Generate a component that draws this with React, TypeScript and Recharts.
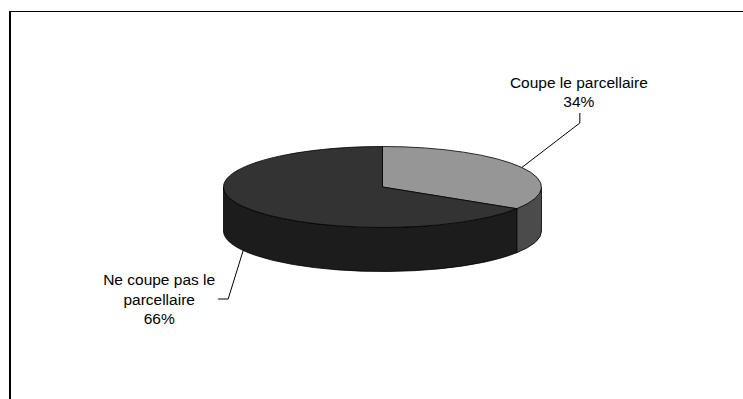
import React from "react";
import { PieChart, Pie, Cell } from "recharts";

const CATEGORIES = ["Coupe le parcellaire", "Ne coupe pas le parcellaire"];
const VALUES = [34, 66];
const LABEL_LINES = [["Coupe le parcellaire"], ["Ne coupe pas le", "parcellaire"]];
const TOP_COLORS = ["#969696", "#333333"];
const SIDE_COLORS = ["#4b4b4b", "#1c1c1c"];

const data = CATEGORIES.map((name, i) => ({ name, value: VALUES[i] }));

const TILT = 40.5 / 159;
const DEPTH = 44 / 159;
const RAD = Math.PI / 180;

// leader/label layout relative to the slice anchor point
const LABEL_LAYOUT = [
  { elbow: [58, -44.5], end: [58, -54.5], textX: 57, baselines: [-79.5, -60.5] },
  { elbow: [-15, 48.5], end: [-25, 48.5], textX: -84, baselines: [34.5, 54, 73.5] },
];

const FONT = "'Liberation Sans', Arial, sans-serif";

function idxOf(props: any): number {
  const name = props.name ?? props.payload?.name;
  const i = CATEGORIES.indexOf(name);
  return i < 0 ? (props.index ?? 0) : i;
}

function Slice3D(props: any) {
  const { cx, cy, outerRadius, startAngle, endAngle, fill } = props;
  const idx = idxOf(props);
  const rx = outerRadius;
  const ry = outerRadius * TILT;
  const d = outerRadius * DEPTH;
  const pt = (a: number, dy = 0) => [cx + rx * Math.cos(a * RAD), cy - ry * Math.sin(a * RAD) + dy];
  const hi = Math.max(startAngle, endAngle);
  const lo = Math.min(startAngle, endAngle);
  const large = hi - lo > 180 ? 1 : 0;
  const [sx, sy] = pt(hi);
  const [ex, ey] = pt(lo);
  const top = `M${cx},${cy} L${sx},${sy} A${rx},${ry} 0 ${large} 1 ${ex},${ey} Z`;

  const sides: string[] = [];
  for (let k = -720; k <= 360; k += 360) {
    const a1 = Math.min(hi, 0 + k);
    const a2 = Math.max(lo, -180 + k);
    if (a1 > a2) {
      const [x1, y1] = pt(a1);
      const [x2, y2] = pt(a2);
      const [x3, y3] = pt(a2, d);
      const [x4, y4] = pt(a1, d);
      const lg = a1 - a2 > 180 ? 1 : 0;
      sides.push(
        `M${x1},${y1} A${rx},${ry} 0 ${lg} 1 ${x2},${y2} L${x3},${y3} A${rx},${ry} 0 ${lg} 0 ${x4},${y4} Z`
      );
    }
  }
  return (
    <g>
      {sides.map((p, i) => (
        <path key={i} d={p} fill={SIDE_COLORS[idx]} stroke="#000" strokeWidth={0.8} strokeLinejoin="round" />
      ))}
      <path d={top} fill={fill} stroke="#000" strokeWidth={0.8} strokeLinejoin="round" />
    </g>
  );
}

function renderLabel(props: any) {
  const { cx, cy, midAngle, outerRadius, percent } = props;
  const idx = idxOf(props);
  const rx = outerRadius;
  const ry = outerRadius * TILT;
  const d = outerRadius * DEPTH;
  const s = Math.sin(midAngle * RAD);
  const ax = cx + rx * Math.cos(midAngle * RAD);
  const ay = cy - ry * s + (s < 0 ? d : 0);
  const L = LABEL_LAYOUT[idx];
  const lines = [...LABEL_LINES[idx], `${Math.round(percent * 100)}%`];
  return (
    <g key={`lbl-${idx}`}>
      <polyline
        points={`${ax},${ay} ${ax + L.elbow[0]},${ay + L.elbow[1]} ${ax + L.end[0]},${ay + L.end[1]}`}
        fill="none"
        stroke="#000"
        strokeWidth={1}
      />
      {lines.map((t, i) => (
        <text
          key={i}
          x={ax + L.textX}
          y={ay + L.baselines[i]}
          textAnchor="middle"
          fontFamily={FONT}
          fontSize={15.5}
          fill="#000"
        >
          {t}
        </text>
      ))}
    </g>
  );
}

export default function App() {
  return (
    <div
      style={{
        position: "fixed",
        left: 0,
        top: 0,
        width: 743,
        height: 399,
        overflow: "hidden",
        background: "#fff",
      }}
    >
      <div
        style={{
          position: "absolute",
          left: 9,
          top: 11,
          width: 800,
          height: 500,
          borderTop: "1px solid #000",
          borderLeft: "2px solid #000",
        }}
      />
      <div style={{ position: "absolute", left: 0, top: 0 }}>
        <PieChart width={743} height={399} margin={{ top: 0, right: 0, bottom: 0, left: 0 }}>
          <Pie
            data={data}
            dataKey="value"
            nameKey="name"
            cx={382.5}
            cy={187}
            outerRadius={159}
            startAngle={90}
            endAngle={-270}
            isAnimationActive={false}
            labelLine={false}
            label={renderLabel}
            shape={Slice3D}
            inactiveShape={Slice3D}
            activeShape={Slice3D}
            stroke="#000"
          >
            {data.map((_, i) => (
              <Cell key={i} fill={TOP_COLORS[i]} />
            ))}
          </Pie>
        </PieChart>
      </div>
    </div>
  );
}
